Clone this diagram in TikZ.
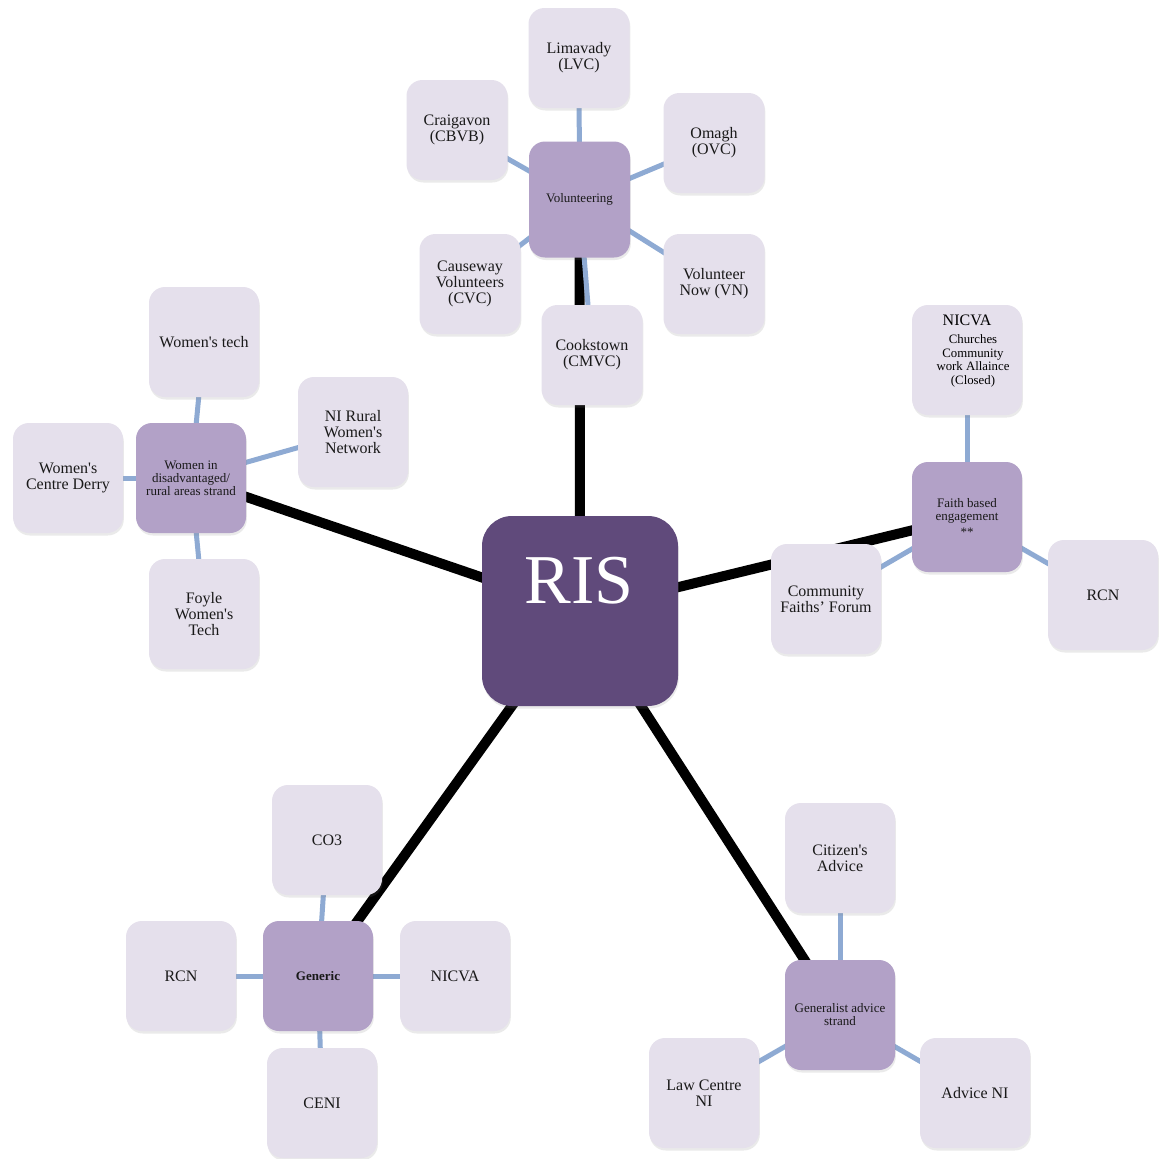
\documentclass[tikz,border=0pt]{standalone}
\usepackage{fontspec}
\setmainfont{Liberation Serif}
\usetikzlibrary{shadows,backgrounds}
\definecolor{leafc}{HTML}{E5E0EC}
\definecolor{midc}{HTML}{B2A1C7}
\definecolor{risc}{HTML}{604A7B}
\definecolor{linkc}{HTML}{8EAAD3}
\newcommand{\myq}{\textquotesingle}
\begin{document}
\begin{tikzpicture}[x=1pt,y=-1pt,
  box/.style={rounded corners=16pt, align=center, inner sep=2pt, text=black!90,
    drop shadow={shadow xshift=0.8pt, shadow yshift=-2.5pt, opacity=0.16}},
  leaf/.style={box, fill=leafc, minimum width=110pt, minimum height=110pt,
    font=\fontsize{16}{16}\selectfont},
  vleaf/.style={leaf, minimum width=101pt, minimum height=100pt},
  mid/.style={box, fill=midc, minimum width=110pt, minimum height=110pt,
    font=\fontsize{13}{13}\selectfont},
  trunk/.style={line width=10pt, black},
  twig/.style={line width=5pt, linkc}]
\useasboundingbox (0,0) rectangle (1160,1159);

% central node
\node[box, fill=risc, minimum width=196pt, minimum height=190pt, rounded corners=30pt] (ris) at (580,611) {};
\node[text=white, font=\fontsize{70}{70}\selectfont, inner sep=0pt] (ristext) at (579,581) {RIS};

% volunteering cluster
\node[vleaf] (lim) at (579,58) {Limavady\\(LVC)};
\node[vleaf] (cra) at (457,130) {Craigavon\\(CBVB)};
\node[vleaf] (oma) at (714,143) {Omagh\\(OVC)};
\node[mid, minimum width=101pt, minimum height=116pt] (vol) at (579.5,199.5) {Volunteering};
\node[vleaf] (cau) at (470,284) {Causeway\\Volunteers\\(CVC)};
\node[vleaf] (vn) at (714,284) {Volunteer\\Now (VN)};
\node[vleaf] (coo) at (592,355) {Cookstown\\(CMVC)};

% women cluster
\node[leaf] (wt) at (204,342) {Women\myq s tech};
\node[leaf] (nir) at (353,432) {NI Rural\\Women\myq s\\Network};
\node[leaf] (wcd) at (68,478) {Women\myq s\\Centre Derry};
\node[mid] (wom) at (191,478) {Women in\\disadvantaged/\\rural areas strand};
\node[leaf] (foy) at (204,614) {Foyle\\Women\myq s\\Tech};

% faith cluster
\node[leaf] (nicf) at (967,360) {};
\node[font=\fontsize{16}{16}\selectfont, inner sep=0pt] (nicft) at (967,320) {NICVA};
\node[font=\fontsize{12.8}{13.4}\selectfont, align=center, inner sep=0pt] (ccat) at (973,361) {Churches\\Community\\work Allaince\\(Closed)};
\node[mid] (fai) at (967,517) {Faith based\\engagement\\[3pt]**};
\node[leaf] (rcnf) at (1103,595) {RCN};
\node[leaf] (cff) at (826,599) {Community\\Faiths’ Forum};

% generic cluster
\node[leaf] (co3) at (327,840) {CO3};
\node[leaf] (rcng) at (181,976) {RCN};
\node[mid, font=\bfseries\fontsize{13}{13}\selectfont] (gen) at (318,976) {Generic};
\node[leaf] (nicg) at (455,976) {NICVA};
\node[leaf] (ceni) at (322,1103) {CENI};

% generalist cluster
\node[leaf] (cit) at (840,858) {Citizen\myq s\\Advice};
\node[mid] (gad) at (840,1015) {Generalist advice\\strand};
\node[leaf] (law) at (704,1093) {Law Centre\\NI};
\node[leaf] (adv) at (975,1093) {Advice NI};

\begin{pgfonlayer}{background}
  \fill[white] (0,0) rectangle (1160,1159);
  \draw[trunk] (ris.center) -- (vol.center);
  \draw[trunk] (ris.center) -- (wom.center);
  \draw[trunk] (ris.center) -- (fai.center);
  \draw[trunk] (ris.center) -- (gen.center);
  \draw[trunk] (ris.center) -- (gad.center);
  \foreach \a in {lim,cra,oma,cau,vn,coo} \draw[twig] (\a.center) -- (vol.center);
  \foreach \a in {wt,nir,wcd,foy} \draw[twig] (\a.center) -- (wom.center);
  \foreach \a in {nicf,rcnf,cff} \draw[twig] (\a.center) -- (fai.center);
  \foreach \a in {co3,rcng,nicg,ceni} \draw[twig] (\a.center) -- (gen.center);
  \foreach \a in {cit,law,adv} \draw[twig] (\a.center) -- (gad.center);
\end{pgfonlayer}
\end{tikzpicture}
\end{document}
